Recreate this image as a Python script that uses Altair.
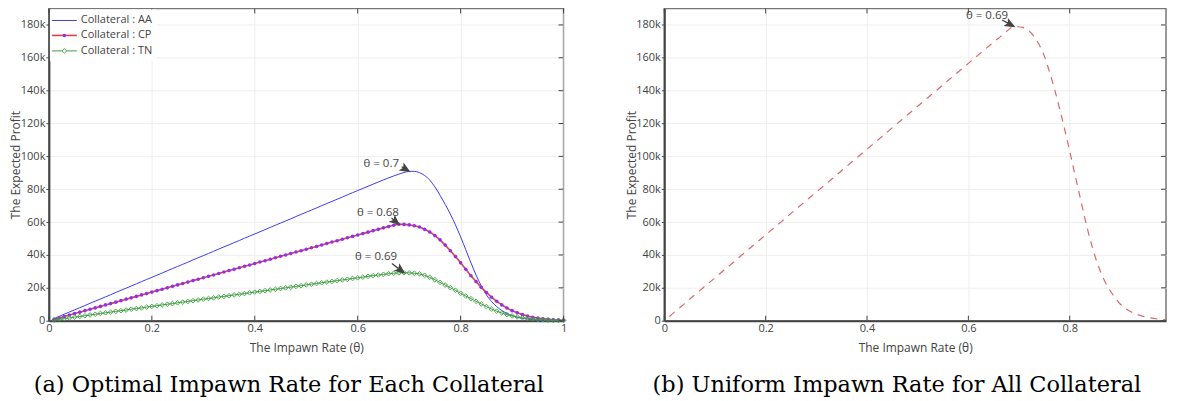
import altair as alt
import pandas as pd

# ---------------- data (values in thousands) ----------------
theta = [
    0.01, 0.02, 0.03, 0.04, 0.05, 0.06, 0.07, 0.08, 0.09, 0.10,
    0.11, 0.12, 0.13, 0.14, 0.15, 0.16, 0.17, 0.18, 0.19, 0.20,
    0.21, 0.22, 0.23, 0.24, 0.25, 0.26, 0.27, 0.28, 0.29, 0.30,
    0.31, 0.32, 0.33, 0.34, 0.35, 0.36, 0.37, 0.38, 0.39, 0.40,
    0.41, 0.42, 0.43, 0.44, 0.45, 0.46, 0.47, 0.48, 0.49, 0.50,
    0.51, 0.52, 0.53, 0.54, 0.55, 0.56, 0.57, 0.58, 0.59, 0.60,
    0.61, 0.62, 0.63, 0.64, 0.65, 0.66, 0.67, 0.68, 0.69, 0.70,
    0.71, 0.72, 0.73, 0.74, 0.75, 0.76, 0.77, 0.78, 0.79, 0.80,
    0.81, 0.82, 0.83, 0.84, 0.85, 0.86, 0.87, 0.88, 0.89, 0.90,
    0.91, 0.92, 0.93, 0.94, 0.95, 0.96, 0.97, 0.98, 0.99, 1.00,
]

profit_aa = [
    1.3, 2.6, 4.0, 5.3, 6.6, 7.9, 9.2, 10.6, 11.9, 13.2,
    14.5, 15.8, 17.2, 18.5, 19.8, 21.1, 22.4, 23.8, 25.1, 26.4,
    27.7, 29.0, 30.4, 31.7, 33.0, 34.3, 35.6, 37.0, 38.3, 39.6,
    40.9, 42.2, 43.6, 44.9, 46.2, 47.5, 48.8, 50.2, 51.5, 52.8,
    54.1, 55.4, 56.8, 58.1, 59.4, 60.7, 62.0, 63.4, 64.7, 66.0,
    67.3, 68.6, 70.0, 71.3, 72.6, 73.9, 75.2, 76.6, 77.9, 79.2,
    80.5, 81.8, 83.1, 84.4, 85.7, 86.9, 88.1, 89.2, 90.2, 90.9,
    90.9, 90.1, 88.4, 85.6, 81.4, 76.3, 70.8, 64.9, 58.3, 51.0,
    43.2, 35.3, 27.8, 21.2, 15.8, 11.7, 8.6, 6.2, 4.4, 3.1,
    2.1, 1.4, 0.95, 0.6, 0.4, 0.25, 0.15, 0.1, 0.05, 0.03,
]

profit_cp = [
    0.9, 1.7, 2.6, 3.5, 4.4, 5.2, 6.1, 7.0, 7.8, 8.7,
    9.6, 10.4, 11.3, 12.2, 13.1, 13.9, 14.8, 15.7, 16.5, 17.4,
    18.3, 19.1, 20.0, 20.9, 21.8, 22.6, 23.5, 24.4, 25.2, 26.1,
    27.0, 27.8, 28.7, 29.6, 30.5, 31.3, 32.2, 33.1, 33.9, 34.8,
    35.7, 36.5, 37.4, 38.3, 39.2, 40.0, 40.9, 41.8, 42.6, 43.5,
    44.4, 45.2, 46.1, 47.0, 47.9, 48.7, 49.6, 50.5, 51.3, 52.2,
    53.0, 53.9, 54.8, 55.6, 56.5, 57.3, 58.1, 58.7, 58.6, 58.3,
    57.8, 57.0, 55.6, 54.0, 51.8, 49.2, 46.0, 42.6, 39.0, 35.2,
    31.3, 27.4, 23.8, 20.3, 17.2, 14.3, 11.8, 9.6, 7.7, 6.1,
    4.8, 3.7, 2.8, 2.1, 1.6, 1.2, 0.9, 0.6, 0.4, 0.3,
]

profit_tn = [
    0.4, 0.9, 1.3, 1.7, 2.2, 2.6, 3.0, 3.5, 3.9, 4.4,
    4.8, 5.2, 5.7, 6.1, 6.5, 7.0, 7.4, 7.8, 8.3, 8.7,
    9.1, 9.6, 10.0, 10.4, 10.9, 11.3, 11.7, 12.2, 12.6, 13.1,
    13.5, 13.9, 14.4, 14.8, 15.2, 15.7, 16.1, 16.5, 17.0, 17.4,
    17.8, 18.3, 18.7, 19.1, 19.6, 20.0, 20.4, 20.9, 21.3, 21.8,
    22.2, 22.6, 23.1, 23.5, 23.9, 24.4, 24.8, 25.2, 25.7, 26.1,
    26.5, 27.0, 27.4, 27.8, 28.2, 28.6, 28.9, 29.1, 29.2, 29.1,
    28.9, 28.5, 27.6, 26.4, 24.9, 23.3, 21.7, 20.1, 18.5, 16.7,
    15.0, 13.4, 11.8, 10.2, 8.6, 7.1, 5.8, 4.7, 3.7, 2.9,
    2.3, 1.8, 1.4, 1.0, 0.75, 0.55, 0.4, 0.3, 0.2, 0.15,
]

theta_uniform = [
    0.01, 0.02, 0.03, 0.04, 0.05, 0.06, 0.07, 0.08, 0.09, 0.10,
    0.11, 0.12, 0.13, 0.14, 0.15, 0.16, 0.17, 0.18, 0.19, 0.20,
    0.21, 0.22, 0.23, 0.24, 0.25, 0.26, 0.27, 0.28, 0.29, 0.30,
    0.31, 0.32, 0.33, 0.34, 0.35, 0.36, 0.37, 0.38, 0.39, 0.40,
    0.41, 0.42, 0.43, 0.44, 0.45, 0.46, 0.47, 0.48, 0.49, 0.50,
    0.51, 0.52, 0.53, 0.54, 0.55, 0.56, 0.57, 0.58, 0.59, 0.60,
    0.61, 0.62, 0.63, 0.64, 0.65, 0.66, 0.67, 0.68, 0.69, 0.70,
    0.71, 0.72, 0.73, 0.74, 0.75, 0.76, 0.77, 0.78, 0.79, 0.80,
    0.81, 0.82, 0.83, 0.84, 0.85, 0.86, 0.87, 0.88, 0.89, 0.90,
    0.91, 0.92, 0.93, 0.94, 0.95, 0.96, 0.97, 0.98, 0.99,
]

profit_uniform = [
    2.6, 5.2, 7.8, 10.4, 13.1, 15.7, 18.3, 20.9, 23.5, 26.1,
    28.7, 31.3, 33.9, 36.5, 39.2, 41.8, 44.4, 47.0, 49.6, 52.2,
    54.8, 57.4, 60.0, 62.6, 65.3, 67.9, 70.5, 73.1, 75.7, 78.3,
    80.9, 83.5, 86.1, 88.7, 91.4, 94.0, 96.6, 99.2, 101.8, 104.4,
    107.0, 109.6, 112.2, 114.8, 117.5, 120.1, 122.7, 125.3, 127.9, 130.5,
    133.1, 135.7, 138.3, 140.9, 143.6, 146.2, 148.8, 151.4, 154.0, 156.6,
    159.2, 161.8, 164.4, 167.0, 169.6, 172.1, 174.5, 177.3, 179.1, 178.9,
    178.2, 176.3, 172.8, 167.8, 161.0, 151.5, 141.0, 129.0, 116.5, 103.2,
    89.3, 75.8, 62.3, 49.8, 39.2, 30.4, 23.5, 18.2, 13.8, 10.0,
    7.5, 5.6, 4.2, 3.1, 2.3, 1.7, 1.2, 0.9, 0.6,
]

series_names = ["Collateral : AA", "Collateral : CP", "Collateral : TN"]

ann_a_theta = [0.70, 0.68, 0.69]
ann_a_value = [90.9, 58.7, 29.2]
ann_a_text = ["θ = 0.7", "θ = 0.68", "θ = 0.69"]
ann_b_theta = [0.69]
ann_b_value = [179.1]
ann_b_text = ["θ = 0.69"]

x_ticks_a = [0, 0.2, 0.4, 0.6, 0.8, 1]
x_ticks_b = [0, 0.2, 0.4, 0.6, 0.8]
y_ticks = [0, 20, 40, 60, 80, 100, 120, 140, 160, 180]

caption_a = "(a) Optimal Impawn Rate for Each Collateral"
caption_b = "(b) Uniform Impawn Rate for All Collateral"
x_title = "The Impawn Rate (θ)"
y_title = "The Expected Profit"

# ---------------- styles ----------------
FONT = "Open Sans"
TXT = "#444444"
line_colors = ["#3b3bf5", "#e0404c", "#3f9f3f"]
cp_marker = "#9130e6"
uniform_color = "#d96a6a"
# annotation styles: text offsets (px), arrow angle (deg), arrow length (units)
ann_a_dx = [-28, -21, -28]
ann_a_dy = [-7, -11, -16]
ann_a_angle = [31, 40, 37]
ann_a_len = [1.1, 1.2, 1.9]
ann_b_dx = [-27]
ann_b_dy = [-10]
ann_b_angle = [28]
ann_b_len = [1.7]
legend_y = [12, 27, 42.5]
TICK_LEN = 5

PLOT_H = 313
WIDTH_A = 516
WIDTH_B = 503
Y_MAX = 190


def arrow_path(length):
    return f"M0,0L-1,-0.42L-0.78,0L-1,0.42ZM-0.8,0L-{length},0"


def y_enc():
    return alt.Y(
        "value:Q",
        scale=alt.Scale(domain=[0, Y_MAX], nice=False, zero=True),
        axis=alt.Axis(values=y_ticks, labelExpr="datum.value == 0 ? '0' : datum.value + 'k'",
                      title=y_title, tickSize=3, labelPadding=1, titleX=-33,
                      titleBaseline="middle", grid=True),
    )


def x_enc(dmax, ticks):
    return alt.X(
        "theta:Q",
        scale=alt.Scale(domain=[0, dmax], nice=False, zero=False),
        axis=alt.Axis(values=ticks, format="~g", title=x_title, labelFlush=False,
                      ticks=False, tickSize=0, labelPadding=2, titlePadding=9, grid=True),
    )


def annotations(thetas, values, texts, dxs, dys, angles, lens, X, Y):
    layers = []
    for t, v, s, dx, dy, ang, ln in zip(thetas, values, texts, dxs, dys, angles, lens):
        row = pd.DataFrame({"theta": [t], "value": [v]})
        layers.append(
            alt.Chart(row).mark_point(shape=arrow_path(ln), size=256, angle=ang, filled=True,
                                      fill=TXT, stroke=TXT, strokeWidth=1.3, opacity=1)
            .encode(x=X, y=Y)
        )
        layers.append(
            alt.Chart(row).mark_text(text=s, dx=dx, dy=dy, font=FONT, fontSize=11.5, color=TXT,
                                     align="center", baseline="middle")
            .encode(x=X, y=Y)
        )
    return layers


def mirror_ticks(xticks, width, X, Y):
    """Inside ticks on the top, bottom and right borders (plotly-style mirror)."""
    dx = pd.DataFrame({"theta": xticks})
    dy = pd.DataFrame({"value": y_ticks})
    rule = dict(color="#444444", strokeWidth=1)
    return [
        alt.Chart(dx).mark_rule(**rule).encode(x=X, y=alt.value(0), y2=alt.value(TICK_LEN)),
        alt.Chart(dx).mark_rule(**rule).encode(x=X, y=alt.value(PLOT_H - TICK_LEN), y2=alt.value(PLOT_H)),
        alt.Chart(dy).mark_rule(**rule).encode(y=Y, x=alt.value(width - TICK_LEN), x2=alt.value(width)),
    ]


def caption(text):
    return alt.TitleParams(text, orient="bottom", anchor="middle", frame="bounds",
                           font="DejaVu Serif", fontSize=22.5, fontWeight="normal",
                           color="black", offset=20)


# ---------------- panel (a) ----------------
n = len(theta)
df_a = pd.DataFrame({
    "theta": theta * 3,
    "value": profit_aa + profit_cp + profit_tn,
    "series": [series_names[0]] * n + [series_names[1]] * n + [series_names[2]] * n,
})
Xa = x_enc(1, x_ticks_a)
Ya = y_enc()
base_a = alt.Chart(df_a)


def only(name):
    return alt.datum.series == name


layers_a = [
    base_a.transform_filter(only(series_names[0])).mark_line(color=line_colors[0], strokeWidth=1,
                                                             interpolate="monotone")
    .encode(x=Xa, y=Ya),
    base_a.transform_filter(only(series_names[1])).mark_line(color=line_colors[1], strokeWidth=1.6)
    .encode(x=Xa, y=Ya),
    base_a.transform_filter(only(series_names[1])).mark_point(filled=True, color=cp_marker, size=13, opacity=1)
    .encode(x=Xa, y=Ya),
    base_a.transform_filter(only(series_names[2])).mark_line(color=line_colors[2], strokeWidth=1)
    .encode(x=Xa, y=Ya),
    base_a.transform_filter(only(series_names[2])).mark_point(shape="diamond", filled=False, color=line_colors[2],
                                                                 size=22, strokeWidth=0.9, opacity=1)
    .encode(x=Xa, y=Ya),
]

layers_a += annotations(ann_a_theta, ann_a_value, ann_a_text, ann_a_dx, ann_a_dy, ann_a_angle, ann_a_len, Xa, Ya)
layers_a += mirror_ticks(x_ticks_a, WIDTH_A, Xa, Ya)

# legend (manual, inside top-left)
one = pd.DataFrame({"k": [0]})
layers_a.append(
    alt.Chart(one).mark_rect(fill="white").encode(
        x=alt.value(1), x2=alt.value(108), y=alt.value(1), y2=alt.value(53))
)
for i, name in enumerate(series_names):
    layers_a.append(alt.Chart(one).mark_rule(color=line_colors[i], strokeWidth=1.6 if i == 1 else 1)
                    .encode(x=alt.value(3), x2=alt.value(28), y=alt.value(legend_y[i])))
    layers_a.append(alt.Chart(one).mark_text(text=name, align="left", baseline="middle", font=FONT,
                                             fontSize=11, color=TXT)
                    .encode(x=alt.value(32), y=alt.value(legend_y[i])))
layers_a.append(alt.Chart(one).mark_point(filled=True, color=cp_marker, size=13, opacity=1)
                .encode(x=alt.value(15.5), y=alt.value(legend_y[1])))
layers_a.append(alt.Chart(one).mark_point(shape="diamond", filled=False, fill="white", color=line_colors[2],
                                          size=22, strokeWidth=0.9, opacity=1)
                .encode(x=alt.value(15.5), y=alt.value(legend_y[2])))

panel_a = alt.layer(*layers_a).properties(width=WIDTH_A, height=PLOT_H, title=caption(caption_a))

# ---------------- panel (b) ----------------
df_b = pd.DataFrame({"theta": theta_uniform, "value": profit_uniform})
Xb = x_enc(0.99, x_ticks_b)
Yb = y_enc()
layers_b = [
    alt.Chart(df_b).mark_line(color=uniform_color, strokeWidth=1.2, strokeDash=[7, 6],
                              interpolate="monotone").encode(x=Xb, y=Yb),
]
layers_b += annotations(ann_b_theta, ann_b_value, ann_b_text, ann_b_dx, ann_b_dy, ann_b_angle, ann_b_len,
                        Xb, Yb)
layers_b += mirror_ticks(x_ticks_b, WIDTH_B, Xb, Yb)

panel_b = alt.layer(*layers_b).properties(width=WIDTH_B, height=PLOT_H, title=caption(caption_b))

chart = (
    alt.hconcat(panel_a, panel_b, spacing=56)
    .properties(padding={"left": 1, "top": -2, "right": 0, "bottom": 0}, background="white")
    .configure_axis(labelFont=FONT, titleFont=FONT, labelFontSize=11, titleFontSize=12,
                    labelColor=TXT, titleColor=TXT, titleFontWeight="normal",
                    gridColor="#eeeeee", gridWidth=1, domainColor="#444444", domainWidth=2,
                    tickColor="#444444", tickWidth=1)
    .configure_view(stroke="#777777", strokeWidth=1.5)
)

chart.save("out.html", embed_options={"renderer": "svg", "actions": False})
